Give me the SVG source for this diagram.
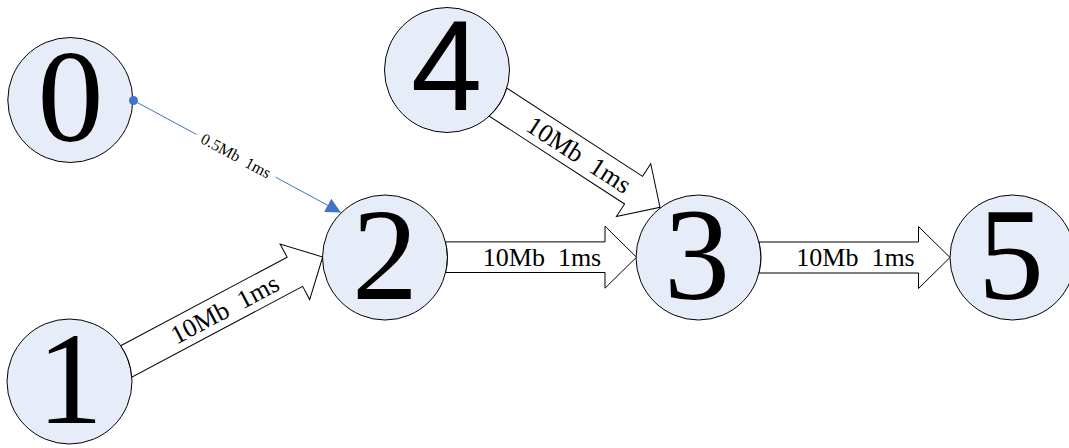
<svg xmlns="http://www.w3.org/2000/svg" width="1069" height="448" viewBox="0 0 1069 448">
  <style>
    .node circle { fill: #E7EDF8; stroke: #000; stroke-width: 1; }
    .num { font-family: "Liberation Serif", "Times New Roman", serif; font-size: 132px; fill: #000; text-anchor: middle; }
    .num-sans { font-family: "Liberation Sans", Arial, sans-serif; font-size: 128px; fill: #000; text-anchor: middle; }
    .block { fill: #fff; stroke: #000; stroke-width: 1; stroke-linejoin: miter; }
    .lbl { font-family: "Liberation Serif", "Times New Roman", serif; font-size: 26px; fill: #000; text-anchor: middle; }
    .lbl-small { font-family: "Liberation Serif", "Times New Roman", serif; font-size: 16px; fill: #000; text-anchor: middle; }
    .link { fill: none; stroke: #4472C4; stroke-width: 1; }
  </style>
  <defs>
    <marker id="dot" markerUnits="userSpaceOnUse" viewBox="0 0 10 10" refX="5" refY="5" markerWidth="10" markerHeight="10">
      <circle cx="5" cy="5" r="4.5" fill="#4472C4"/>
    </marker>
    <marker id="tri" markerUnits="userSpaceOnUse" viewBox="0 0 15 15" refX="15" refY="7.5" markerWidth="15" markerHeight="15" orient="auto">
      <path d="M0,0 L15,7.5 L0,15 Z" fill="#4472C4"/>
    </marker>
  </defs>

  <g id="node-0" class="node">
    <circle cx="70.3" cy="100" r="62.5"/>
    <text class="num" x="70.5" y="141">0</text>
  </g>
  <g id="node-1" class="node">
    <circle cx="69.5" cy="381.5" r="62.5"/>
    <text class="num" x="70" y="423">1</text>
  </g>
  <g id="node-2" class="node">
    <circle cx="385" cy="257.5" r="62.5"/>
    <text class="num" x="385" y="298.5">2</text>
  </g>
  <g id="node-3" class="node">
    <circle cx="698.5" cy="257.5" r="62.5"/>
    <text class="num" x="697" y="298.5">3</text>
  </g>
  <g id="node-4" class="node">
    <circle cx="447" cy="70" r="62.5"/>
    <text class="num-sans" x="446.5" y="110">4</text>
  </g>
  <g id="node-5" class="node">
    <circle cx="1012.5" cy="257.5" r="62.5"/>
    <text class="num" x="1011" y="298.5">5</text>
  </g>

  <g id="connectors">
    <g id="link-1-2" transform="translate(322.7,257) rotate(-28)">
      <path class="block" d="M-220.05,-16.5 L-31.5,-16.5 L-31.5,-31.5 L0,0 L-31.5,31.5 L-31.5,16.5 L-225.04,16.5 A62.5,62.5 0 0 0 -220.05,-16.5 Z"/>
      <text class="lbl" x="-111" y="8.8" xml:space="preserve">10Mb  1ms</text>
    </g>
    <g id="link-4-3" transform="translate(660,207.3) rotate(33)">
      <path class="block" d="M-193.3,-16.5 L-31.5,-16.5 L-31.5,-31.5 L0,0 L-31.5,31.5 L-31.5,16.5 L-192.9,16.5 A62.5,62.5 0 0 0 -193.3,-16.5 Z"/>
      <text class="lbl" x="-96.5" y="8.8" xml:space="preserve">10Mb  1ms</text>
    </g>
    <g id="link-2-3" transform="translate(636.5,257.2)">
      <path class="block" d="M-191,-15.3 L-31.5,-15.3 L-31.5,-31 L0,0 L-31.5,31 L-31.5,15.3 L-190.8,15.3 A62.5,62.5 0 0 0 -191,-15.3 Z"/>
      <text class="lbl" x="-94.5" y="8.7" xml:space="preserve">10Mb  1ms</text>
    </g>
    <g id="link-3-5" transform="translate(950,257.5)">
      <path class="block" d="M-190.95,-15.5 L-31.5,-15.5 L-31.5,-31 L0,0 L-31.5,31 L-31.5,15.5 L-190.95,15.5 A62.5,62.5 0 0 0 -190.95,-15.5 Z"/>
      <text class="lbl" x="-94.5" y="8.7" xml:space="preserve">10Mb  1ms</text>
    </g>
    <g id="link-0-2">
      <path class="link" d="M133.5,100.5 L196.4,134.4 M275.6,177.2 L340.9,212.4" marker-start="url(#dot)" marker-end="url(#tri)"/>
      <text class="lbl-small" transform="translate(236,155.8) rotate(28.35)" x="0" y="5.4" xml:space="preserve">0.5Mb  1ms</text>
    </g>
  </g>
</svg>
